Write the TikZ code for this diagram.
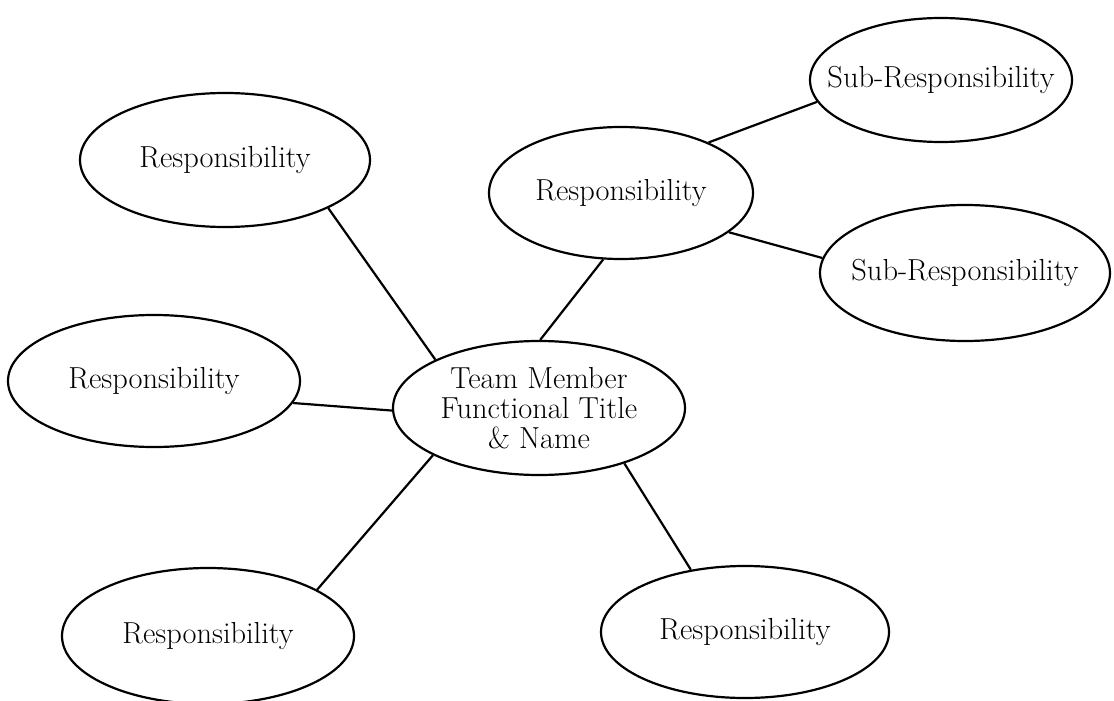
\documentclass[tikz,border=0pt]{standalone}
\usetikzlibrary{shapes.geometric}
\begin{document}
\begin{tikzpicture}[x=0.5pt,y=-0.5pt,
  bub/.style n args={3}{ellipse, draw, line width=1.1pt, inner sep=0pt,
    minimum width=#1pt, minimum height=#2pt,
    label={[font=\fontsize{15.2}{15}\selectfont, align=center]center:#3}},
  conn/.style={line width=1.1pt}]
\useasboundingbox (0,0) rectangle (1114,701);
\node[bub={146}{67}{Team Member\\Functional Title\\\& Name}] (c) at (539,408) {};
\node[bub={145}{67}{Responsibility}] (tl) at (225,160) {};
\node[bub={132}{66}{Responsibility}] (tm) at (621,193) {};
\node[bub={131}{62}{Sub-Responsibility}] (st) at (941,80) {};
\node[bub={145}{68}{Sub-Responsibility}] (sr) at (965,273) {};
\node[bub={146}{66}{Responsibility}] (l) at (154,381) {};
\node[bub={146}{68}{Responsibility}] (bl) at (208,636) {};
\node[bub={144}{66}{Responsibility}] (br) at (745,632) {};
\draw[conn] (c.155) -- (tl.-25);
\draw[conn] (c.89) -- (tm.255.6);
\draw[conn] (c.181.5) -- (l.-9);
\draw[conn] (c.204) -- (bl.23);
\draw[conn] (c.-33) -- (br.131);
\draw[conn] (tm.30) -- (st.190);
\draw[conn] (tm.-20.4) -- (sr.174.7);
\end{tikzpicture}
\end{document}
